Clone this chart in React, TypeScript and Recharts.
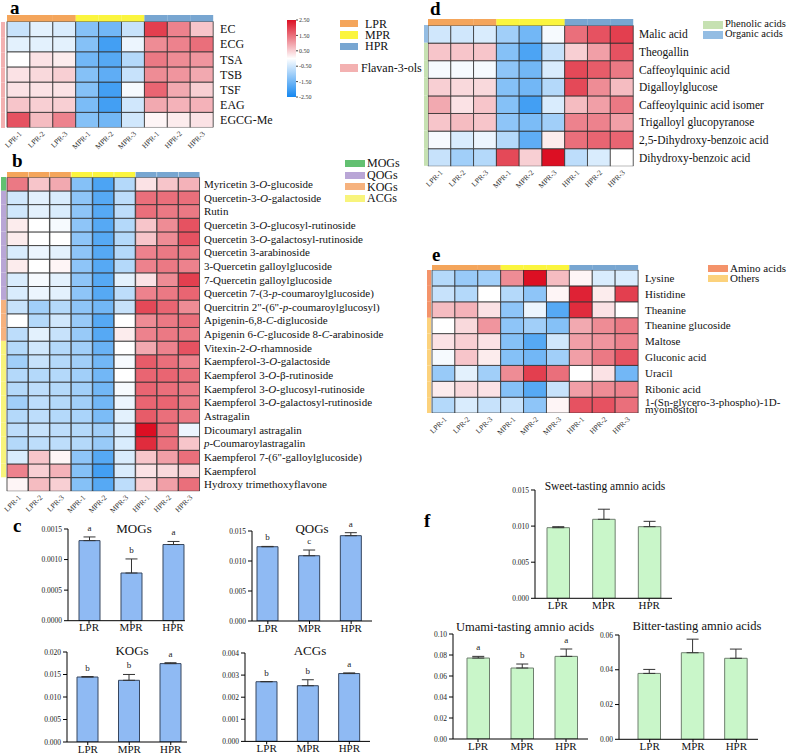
import React from 'react'
import { BarChart, Bar, XAxis, YAxis, Cell, ErrorBar, LabelList } from 'recharts'

const SERIF = '"Liberation Serif", "Times New Roman", serif'

const SAMPLES = ['LPR-1', 'LPR-2', 'LPR-3', 'MPR-1', 'MPR-2', 'MPR-3', 'HPR-1', 'HPR-2', 'HPR-3']
const GROUPS = ['LPR', 'MPR', 'HPR']
const GROUP_COLORS = ['#f4a55b', '#fbf53e', '#78a6d1']

// a: flavan-3-ols (z-scores)
const FLAVAN_ROWS = ['EC', 'ECG', 'TSA', 'TSB', 'TSF', 'EAG', 'EGCG-Me']
const FLAVAN_CLASS = ['Flavan-3-ols', 'Flavan-3-ols', 'Flavan-3-ols', 'Flavan-3-ols', 'Flavan-3-ols', 'Flavan-3-ols', 'Flavan-3-ols']
const FLAVAN_Z = [
  [-0.6, -0.3, -0.4, -1.3, -1.5, -0.6, 2.0, 1.3, 0.6],
  [-0.3, -0.3, -0.3, -1.3, -2.0, -0.2, 1.2, 1.3, 1.5],
  [0.0, 0.3, 0.2, -1.5, -1.8, -0.8, 1.4, 1.2, 1.1],
  [0.3, 0.4, 0.5, -1.3, -1.7, -0.6, 1.2, 1.1, 0.9],
  [0.3, 0.3, 0.3, -1.3, -2.0, -0.1, 1.6, 0.9, 0.5],
  [0.6, 0.5, 0.5, -1.4, -2.0, -0.5, 0.9, 0.8, 0.8],
  [1.8, 0.7, 1.3, -1.3, -1.5, -0.5, 0.1, 0.2, 0.3],
]

// b: flavonol / flavone glycosides
const FLAVONOID_ROWS = [
  'Myricetin 3-O-glucoside',
  'Quercetin-3-O-galactoside',
  'Rutin',
  'Quercetin 3-O-glucosyl-rutinoside',
  'Quercetin 3-O-galactosyl-rutinoside',
  'Quercetin 3-arabinoside',
  '3-Quercetin galloylglucoside',
  '7-Quercetin galloylglucoside',
  'Quercetin 7-(3-p-coumaroylglucoside)',
  'Quercitrin 2"-(6"-p-coumaroylglucosyl)',
  'Apigenin-6,8-C-diglucoside',
  'Apigenin 6-C-glucoside 8-C-arabinoside',
  'Vitexin-2-O-rhamnoside',
  'Kaempferol-3-O-galactoside',
  'Kaempferol 3-O-β-rutinoside',
  'Kaempferol 3-O-glucosyl-rutinoside',
  'Kaempferol 3-O-galactosyl-rutinoside',
  'Astragalin',
  'Dicoumaryl astragalin',
  'p-Coumaroylastragalin',
  'Kaempferol 7-(6"-galloylglucoside)',
  'Kaempferol',
  'Hydroxy trimethoxyflavone',
]
const FLAVONOID_CLASS = [
  'MOGs', 'QOGs', 'QOGs', 'QOGs', 'QOGs', 'QOGs', 'QOGs', 'QOGs', 'QOGs',
  'KOGs', 'KOGs', 'KOGs',
  'ACGs', 'ACGs', 'ACGs', 'ACGs', 'ACGs', 'ACGs', 'ACGs', 'ACGs', 'ACGs', 'ACGs',
  '',
]
const FLAVONOID_Z = [
  [1.4, 0.6, 0.9, -1.3, -1.9, -0.8, 0.3, 0.6, 0.8],
  [-0.5, -0.3, -0.4, -1.2, -1.8, -0.7, 1.5, 1.5, 1.5],
  [-0.5, -0.3, -0.4, -1.2, -1.8, -0.7, 1.5, 1.4, 1.4],
  [0.2, 0.0, -0.1, -1.2, -1.8, -0.8, 0.6, 1.2, 1.8],
  [0.2, 0.0, 0.0, -1.2, -1.8, -0.8, 0.6, 1.2, 1.8],
  [-0.4, -0.2, -0.3, -1.2, -1.8, -0.8, 1.3, 1.4, 1.4],
  [0.2, 0.0, 0.1, -1.2, -1.8, -0.8, 1.3, 1.4, 1.3],
  [-0.4, -0.1, -0.3, -1.2, -1.8, -0.3, 0.3, 1.2, 2.0],
  [-0.4, -0.2, -0.3, -1.2, -1.8, -0.7, 1.3, 1.4, 1.6],
  [-0.6, -1.0, -0.8, -1.2, -1.5, -0.6, 1.9, 1.6, 1.2],
  [0.0, -0.8, -0.5, -1.1, -1.8, 0.0, 1.2, 1.4, 1.5],
  [-0.7, -0.3, -0.6, -1.1, -1.8, 0.2, 1.3, 1.4, 1.4],
  [-0.8, -0.5, -0.8, -1.0, -1.6, 0.0, 0.9, 1.3, 1.8],
  [-1.0, -0.6, -0.8, -1.0, -1.5, -0.1, 1.7, 1.5, 1.3],
  [-0.8, -0.8, -0.8, -1.0, -1.5, 0.0, 1.6, 1.6, 1.5],
  [-0.8, -0.7, -0.8, -1.0, -1.5, -0.1, 1.6, 1.5, 1.4],
  [-1.0, -0.7, -0.8, -1.0, -1.5, -0.2, 1.6, 1.6, 1.4],
  [-0.8, -0.7, -0.8, -0.9, -1.4, -0.3, 1.7, 1.5, 1.4],
  [-0.7, -0.6, -0.7, -0.8, -1.0, -0.4, 2.5, 1.5, -0.2],
  [-0.8, -0.7, -0.7, -0.8, -1.1, -0.4, 2.2, 1.5, 0.6],
  [-0.4, 0.6, 0.1, -1.2, -1.8, -0.4, 0.6, 1.0, 1.5],
  [1.3, 0.5, 0.8, -1.3, -2.0, -0.4, 0.3, 0.4, 0.5],
  [0.1, 0.7, 0.5, -1.3, -1.8, -0.7, 0.5, 1.0, 1.5],
]

// d: phenolic and organic acids
const ACID_ROWS = [
  'Malic acid',
  'Theogallin',
  'Caffeoylquinic acid',
  'Digalloylglucose',
  'Caffeoylquinic acid isomer',
  'Trigalloyl glucopyranose',
  '2,5-Dihydroxy-benzoic acid',
  'Dihydroxy-benzoic acid',
]
const ACID_CLASS = ['Organic acids', 'Phenolic acids', 'Phenolic acids', 'Phenolic acids', 'Phenolic acids', 'Phenolic acids', 'Phenolic acids', 'Phenolic acids']
const ACID_Z = [
  [-0.5, -0.5, -0.4, -1.0, -1.5, -0.1, 1.5, 1.8, 2.0],
  [0.6, 0.6, 0.6, -1.3, -1.9, -0.6, 0.5, 1.0, 1.8],
  [-0.1, -0.1, -0.1, -1.2, -1.5, -0.4, 1.9, 1.7, 1.4],
  [0.5, 0.4, 0.4, -1.3, -1.5, -0.8, 1.9, 1.2, 0.7],
  [0.9, 0.3, 0.6, -1.3, -2.0, -0.4, 0.7, 1.0, 1.4],
  [0.6, 0.7, 0.6, -1.2, -1.4, -1.0, 1.3, 1.3, 1.0],
  [-0.1, -0.4, -0.2, -0.8, -1.7, 0.2, 1.5, 1.6, 1.6],
  [-0.6, -1.0, -0.8, 1.9, 0.5, 2.5, -0.7, -0.4, 0.0],
]

// e: amino acids and others
const AMINO_ROWS = [
  'Lysine',
  'Histidine',
  'Theanine',
  'Theanine glucoside',
  'Maltose',
  'Gluconic acid',
  'Uracil',
  'Ribonic acid',
  '1-(Sn-glycero-3-phospho)-1D-myoinositol',
]
const AMINO_CLASS = ['Amino acids', 'Amino acids', 'Amino acids', 'Others', 'Others', 'Others', 'Others', 'Others', 'Others']
const AMINO_Z = [
  [-0.8, -1.1, -1.0, 1.2, 2.5, 0.7, 0.1, -0.4, -0.4],
  [-0.6, -0.8, 0.0, -0.8, -1.2, 0.1, 2.3, 0.2, 2.0],
  [0.7, 0.8, 0.3, -1.2, -0.2, -1.8, 2.2, 0.3, 0.0],
  [0.0, 0.4, 1.1, -1.2, -1.0, -1.3, 0.9, 1.2, 1.4],
  [0.3, 0.5, 0.3, -1.3, -1.8, -0.5, 1.0, 1.1, 1.3],
  [-0.1, 0.6, 0.2, -1.3, -1.5, -1.0, 1.0, 1.4, 1.8],
  [-1.1, -0.3, -1.0, 1.2, 2.0, 1.5, 0.0, 0.3, -1.5],
  [0.2, 0.4, 0.3, -1.3, -1.8, -0.6, 1.0, 1.2, 1.3],
  [-0.8, -0.4, -0.6, -0.6, -1.2, 0.1, 1.8, 1.8, 1.5],
]

const Z_TICKS = [2.5, 1.5, 0.5, -0.5, -1.5, -2.5]

const CLASS_COLORS: Record<string, string> = {
  'Flavan-3-ols': '#f3b1b1',
  MOGs: '#62c071',
  QOGs: '#b9a6d6',
  KOGs: '#f6b27e',
  ACGs: '#f8f47c',
  'Phenolic acids': '#c6e1b2',
  'Organic acids': '#94bde3',
  'Amino acids': '#f4936a',
  Others: '#fcd27c',
}

// c: relative content of flavonoid glycoside classes
const MOG_MEAN = [0.00131, 0.00078, 0.001246]
const MOG_ERR = [0.00006, 0.00023, 0.00005]
const MOG_SIG = ['a', 'b', 'a']
const QOG_MEAN = [0.01238, 0.01088, 0.01422]
const QOG_ERR = [0.00005, 0.00095, 0.0005]
const QOG_SIG = ['b', 'c', 'a']
const KOG_MEAN = [0.01444, 0.01371, 0.01742]
const KOG_ERR = [0.0001, 0.0013, 0.0002]
const KOG_SIG = ['b', 'b', 'a']
const ACG_MEAN = [0.0027, 0.00252, 0.00307]
const ACG_ERR = [0.00001, 0.00027, 0.00003]
const ACG_SIG = ['b', 'b', 'a']

// f: taste amino acids
const SWEET_MEAN = [0.00978, 0.01094, 0.00992]
const SWEET_ERR = [0.00014, 0.0014, 0.00074]
const UMAMI_MEAN = [0.0771, 0.0676, 0.0787]
const UMAMI_ERR = [0.0016, 0.0038, 0.007]
const UMAMI_SIG = ['a', 'b', 'a']
const BITTER_MEAN = [0.0379, 0.0498, 0.0466]
const BITTER_ERR = [0.0023, 0.0078, 0.0053]

function zColor(v: number) {
  const t = Math.max(-1, Math.min(1, v / 2.5))
  const end = t < 0 ? [20, 135, 240] : [220, 15, 35]
  const a = Math.abs(t)
  const c = end.map(e => Math.round(255 + (e - 255) * a))
  return `rgb(${c[0]},${c[1]},${c[2]})`
}

function italicParts(s: string) {
  return s.split(/(?<=^|-)([OCp])(?=-)/).map((part, k) =>
    k % 2 ? <tspan key={k} fontStyle="italic">{part}</tspan> : part
  )
}

function wrapLabel(s: string, max?: number) {
  if (!max || s.length <= max) return [s]
  const cut = s.lastIndexOf('-', max - 1) + 1
  return [s.slice(0, cut), s.slice(cut)]
}

interface HeatmapProps {
  rows: string[]
  classes: string[]
  z: number[][]
  left: number
  top: number
  cellW: number
  rowH: number
  stripH: number
  labelSize: number
  labelGap: number
  labelWidth: number
  wrapAt?: number
  sideLeft: number
  sideW: number
}

function Heatmap(p: HeatmapProps) {
  const n = p.rows.length
  const frac = p.stripH / p.rowH
  const keys = p.rows.map((_, r) => 'r' + r)
  const table = SAMPLES.map(name => {
    const o: Record<string, string | number> = { name, strip: frac }
    keys.forEach(k => { o[k] = 1 })
    return o
  })
  const sideRow: Record<string, string | number> = { name: 'class' }
  keys.forEach(k => { sideRow[k] = 1 })
  const plotW = p.cellW * SAMPLES.length
  const plotH = p.rowH * n + p.stripH
  const xh = 34
  const ml = 16
  const ticks = p.rows.map((_, i) => n - i - 0.5)
  const order = [...keys].reverse()

  const renderRow = (t: any) => {
    const i = Math.round(n - 0.5 - t.payload.value)
    const lines = wrapLabel(p.rows[i], p.wrapAt)
    return (
      <text x={t.x} y={t.y} fontSize={p.labelSize} fontFamily={SERIF} fill="#111" textAnchor="start">
        {lines.map((line, li) => (
          <tspan key={li} x={t.x} dy={li === 0 ? `${0.35 - (lines.length - 1) * 0.3}em` : '0.68em'}>
            {italicParts(line)}
          </tspan>
        ))}
      </text>
    )
  }

  return (
    <>
      <div style={{ position: 'absolute', left: p.left - ml, top: p.top - p.stripH }}>
        <BarChart
          width={ml + plotW + p.labelWidth}
          height={plotH + xh}
          data={table}
          margin={{ top: 0, right: 0, bottom: 0, left: ml }}
          barCategoryGap={0}
          barGap={0}
        >
          <XAxis
            dataKey="name"
            interval={0}
            angle={-45}
            textAnchor="end"
            height={xh}
            tickLine={false}
            axisLine={false}
            tickSize={0}
            tickMargin={3}
            tick={{ fontSize: 7.5, fill: '#333', fontFamily: SERIF }}
          />
          <YAxis
            orientation="right"
            type="number"
            domain={[0, n + frac]}
            ticks={ticks}
            interval={0}
            allowDataOverflow
            width={p.labelWidth}
            tickLine={false}
            axisLine={false}
            tickSize={0}
            tickMargin={p.labelGap}
            tick={renderRow}
          />
          {order.map(k => {
            const r = Number(k.slice(1))
            return (
              <Bar key={k} dataKey={k} stackId="cells" isAnimationActive={false} stroke="#2e2e2e" strokeWidth={0.8}>
                {SAMPLES.map((s, ci) => <Cell key={s} fill={zColor(p.z[r][ci])} />)}
              </Bar>
            )
          })}
          <Bar dataKey="strip" stackId="cells" isAnimationActive={false}>
            {SAMPLES.map(s => <Cell key={s} fill={GROUP_COLORS[GROUPS.indexOf(s.split('-')[0])]} />)}
          </Bar>
        </BarChart>
      </div>
      <div style={{ position: 'absolute', left: p.sideLeft, top: p.top }}>
        <BarChart
          width={p.sideW}
          height={p.rowH * n}
          data={[sideRow]}
          margin={{ top: 0, right: 0, bottom: 0, left: 0 }}
          barCategoryGap={0}
        >
          <XAxis dataKey="name" hide />
          <YAxis hide type="number" domain={[0, n]} />
          {order.map(k => (
            <Bar
              key={k}
              dataKey={k}
              stackId="side"
              isAnimationActive={false}
              fill={CLASS_COLORS[p.classes[Number(k.slice(1))]] || 'transparent'}
            />
          ))}
        </BarChart>
      </div>
    </>
  )
}

interface BarPanelProps {
  means: number[]
  errs: number[]
  sig?: string[]
  axisX: number
  top: number
  bottom: number
  plotW: number
  padL: number
  padR: number
  barW: number
  max: number
  ticks: number[]
  digits: number
  fill: string
  stroke: string
}

function BarPanel(p: BarPanelProps) {
  const table = GROUPS.map((name, i) => ({
    name,
    mean: p.means[i],
    err: [0, p.errs[i]],
    cap: p.errs[i],
    sig: p.sig ? p.sig[i] : '',
  }))
  const yw = 40
  const mt = 18
  const mr = 14
  const xh = 14
  return (
    <div style={{ position: 'absolute', left: p.axisX - yw, top: p.top - mt }}>
      <BarChart
        width={yw + p.plotW + mr}
        height={mt + p.bottom - p.top + xh}
        data={table}
        margin={{ top: mt, right: mr, bottom: 0, left: 0 }}
        barSize={p.barW}
      >
        <XAxis
          dataKey="name"
          interval={0}
          padding={{ left: p.padL, right: p.padR }}
          height={xh}
          tickSize={3}
          tickMargin={0}
          stroke="#000"
          tick={{ fontSize: 11, fill: '#111', fontFamily: SERIF }}
        />
        <YAxis
          width={yw}
          type="number"
          domain={[0, p.max]}
          ticks={p.ticks}
          interval={0}
          allowDataOverflow
          tickSize={4}
          tickMargin={2}
          stroke="#000"
          tickFormatter={(v: number) => v.toFixed(p.digits)}
          tick={{ fontSize: 7.5, fill: '#222', fontFamily: SERIF }}
        />
        <Bar dataKey="mean" stackId="m" fill={p.fill} stroke={p.stroke} strokeWidth={1} isAnimationActive={false}>
          <ErrorBar dataKey="err" direction="y" width={6} stroke="#333" strokeWidth={1} />
        </Bar>
        <Bar dataKey="cap" stackId="m" fill="none" isAnimationActive={false}>
          {p.sig && <LabelList dataKey="sig" position="top" offset={6} fill="#222" fontSize={9} fontFamily={SERIF} fontStyle="normal" />}
        </Bar>
      </BarChart>
    </div>
  )
}

function ColorBar() {
  return (
    <div style={{ position: 'absolute', left: 287, top: 17 }}>
      <BarChart
        width={40}
        height={83}
        data={[{ name: 'z', range: [-2.5, 2.5] }]}
        margin={{ top: 3, right: 0, bottom: 3, left: 0 }}
        barCategoryGap={0}
      >
        <defs>
          <linearGradient id="zbar" x1="0" y1="0" x2="0" y2="1">
            <stop offset="0%" stopColor={zColor(2.5)} />
            <stop offset="50%" stopColor="#ffffff" />
            <stop offset="100%" stopColor={zColor(-2.5)} />
          </linearGradient>
        </defs>
        <XAxis dataKey="name" hide />
        <YAxis
          orientation="right"
          width={31}
          type="number"
          domain={[-2.5, 2.5]}
          ticks={Z_TICKS}
          interval={0}
          axisLine={false}
          tickSize={2}
          tickMargin={1}
          stroke="#444"
          tickFormatter={(v: number) => v.toFixed(2)}
          tick={{ fontSize: 6, fill: '#333', fontFamily: SERIF }}
        />
        <Bar dataKey="range" fill="url(#zbar)" isAnimationActive={false} />
      </BarChart>
    </div>
  )
}

interface LegendProps {
  items: string[]
  colors: string[]
  x: number
  y: number
  step: number
  boxW: number
  boxH: number
  textX: number
  size: number
}

function Legend(p: LegendProps) {
  return (
    <>
      {p.items.map((item, i) => {
        const cy = p.y + i * p.step
        return (
          <React.Fragment key={item}>
            <div style={{ position: 'absolute', left: p.x, top: cy - p.boxH / 2, width: p.boxW, height: p.boxH, background: p.colors[i] }} />
            <div style={{ position: 'absolute', left: p.textX, top: cy - p.size * 0.42, fontSize: p.size, lineHeight: 0.85, whiteSpace: 'nowrap', color: '#111' }}>
              {item}
            </div>
          </React.Fragment>
        )
      })}
    </>
  )
}

function Title({ text, cx, cy, size }: { text: string; cx: number; cy: number; size: number }) {
  return (
    <div style={{ position: 'absolute', left: cx - 100, width: 200, top: cy - size * 0.45, textAlign: 'center', fontSize: size, lineHeight: 0.9, whiteSpace: 'nowrap', color: '#111' }}>
      {text}
    </div>
  )
}

function Letter({ text, x, base }: { text: string; x: number; base: number }) {
  const size = 19
  return (
    <div style={{ position: 'absolute', left: x, top: Math.max(1, base - size * 0.7125), fontSize: size, lineHeight: 0.75, fontWeight: 'bold', color: '#000' }}>
      {text}
    </div>
  )
}

const BLUE_FILL = '#8fbaf3'
const BLUE_EDGE = '#36465f'
const GREEN_FILL = '#c9f6c9'
const GREEN_EDGE = '#6e7e6e'

export default function App() {
  return (
    <div style={{ position: 'absolute', left: 0, top: 0, width: 788, height: 754, background: '#fff', fontFamily: SERIF, overflow: 'hidden' }}>
      {/* a */}
      <Letter text="a" x={10} base={14} />
      <Heatmap
        rows={FLAVAN_ROWS} classes={FLAVAN_CLASS} z={FLAVAN_Z}
        left={7} top={21.7} cellW={22.9} rowH={15.14} stripH={6.5}
        labelSize={12} labelGap={7} labelWidth={80} sideLeft={1} sideW={4}
      />
      <ColorBar />
      <Legend items={GROUPS} colors={GROUP_COLORS} x={340} y={23.7} step={11.3} boxW={18} boxH={7.5} textX={365} size={12} />
      <Legend items={['Flavan-3-ols']} colors={[CLASS_COLORS['Flavan-3-ols']]} x={340} y={68} step={0} boxW={18} boxH={7.5} textX={361} size={12} />

      {/* b */}
      <Letter text="b" x={12} base={168} />
      <Heatmap
        rows={FLAVONOID_ROWS} classes={FLAVONOID_CLASS} z={FLAVONOID_Z}
        left={7} top={177} cellW={21.44} rowH={13.65} stripH={5.3}
        labelSize={11} labelGap={4} labelWidth={200} sideLeft={1} sideW={5}
      />
      <Legend
        items={['MOGs', 'QOGs', 'KOGs', 'ACGs']}
        colors={['MOGs', 'QOGs', 'KOGs', 'ACGs'].map(c => CLASS_COLORS[c])}
        x={345} y={163.3} step={11.7} boxW={20} boxH={7} textX={367} size={12}
      />

      {/* c */}
      <Letter text="c" x={13} base={533} />
      <BarPanel means={MOG_MEAN} errs={MOG_ERR} sig={MOG_SIG} axisX={68} top={529.3} bottom={621} plotW={117} padL={0} padR={-9} barW={21} max={0.0015} ticks={[0, 0.0005, 0.001, 0.0015]} digits={4} fill={BLUE_FILL} stroke={BLUE_EDGE} />
      <BarPanel means={QOG_MEAN} errs={QOG_ERR} sig={QOG_SIG} axisX={252} top={531} bottom={621} plotW={120} padL={-5} padR={0} barW={21} max={0.015} ticks={[0, 0.005, 0.01, 0.015]} digits={3} fill={BLUE_FILL} stroke={BLUE_EDGE} />
      <BarPanel means={KOG_MEAN} errs={KOG_ERR} sig={KOG_SIG} axisX={67} top={651.7} bottom={741.7} plotW={120} padL={0} padR={-4.5} barW={21} max={0.02} ticks={[0, 0.005, 0.01, 0.015, 0.02]} digits={3} fill={BLUE_FILL} stroke={BLUE_EDGE} />
      <BarPanel means={ACG_MEAN} errs={ACG_ERR} sig={ACG_SIG} axisX={245} top={653.3} bottom={741.7} plotW={125} padL={1} padR={0} barW={21} max={0.004} ticks={[0, 0.001, 0.002, 0.003, 0.004]} digits={3} fill={BLUE_FILL} stroke={BLUE_EDGE} />
      <Title text="MOGs" cx={134} cy={529} size={13} />
      <Title text="QOGs" cx={312} cy={529} size={13} />
      <Title text="KOGs" cx={132} cy={651} size={13} />
      <Title text="ACGs" cx={310} cy={651} size={13} />

      {/* d */}
      <Letter text="d" x={430} base={16} />
      <Heatmap
        rows={ACID_ROWS} classes={ACID_CLASS} z={ACID_Z}
        left={428} top={25} cellW={22.78} rowH={17.6} stripH={6.5}
        labelSize={11.5} labelGap={6} labelWidth={150} sideLeft={424} sideW={4}
      />
      <Legend
        items={['Phenolic acids', 'Organic acids']}
        colors={[CLASS_COLORS['Phenolic acids'], CLASS_COLORS['Organic acids']]}
        x={703} y={24.5} step={10} boxW={20} boxH={8} textX={725} size={10.5}
      />

      {/* e */}
      <Letter text="e" x={432} base={262} />
      <Heatmap
        rows={AMINO_ROWS} classes={AMINO_CLASS} z={AMINO_Z}
        left={432} top={270} cellW={22.89} rowH={15.9} stripH={5}
        labelSize={11} labelGap={7} labelWidth={150} wrapAt={30} sideLeft={427} sideW={4}
      />
      <Legend
        items={['Amino acids', 'Others']}
        colors={[CLASS_COLORS['Amino acids'], CLASS_COLORS.Others]}
        x={708} y={268.3} step={10.5} boxW={20} boxH={7} textX={730} size={11}
      />

      {/* f */}
      <Letter text="f" x={424} base={528} />
      <BarPanel means={SWEET_MEAN} errs={SWEET_ERR} axisX={535} top={490} bottom={598.3} plotW={137} padL={0} padR={0} barW={22.5} max={0.015} ticks={[0, 0.005, 0.01, 0.015]} digits={3} fill={GREEN_FILL} stroke={GREEN_EDGE} />
      <BarPanel means={UMAMI_MEAN} errs={UMAMI_ERR} sig={UMAMI_SIG} axisX={453.3} top={634.3} bottom={739.3} plotW={135} padL={3} padR={0} barW={22.5} max={0.1} ticks={[0, 0.02, 0.04, 0.06, 0.08, 0.1]} digits={2} fill={GREEN_FILL} stroke={GREEN_EDGE} />
      <BarPanel means={BITTER_MEAN} errs={BITTER_ERR} axisX={619} top={635} bottom={739.3} plotW={139} padL={9} padR={0} barW={22.5} max={0.06} ticks={[0, 0.02, 0.04, 0.06]} digits={2} fill={GREEN_FILL} stroke={GREEN_EDGE} />
      <Title text="Sweet-tasting amnio acids" cx={605} cy={486} size={11.5} />
      <Title text="Umami-tasting amnio acids" cx={525} cy={628} size={12.5} />
      <Title text="Bitter-tasting amnio acids" cx={697} cy={627} size={12.5} />
    </div>
  )
}
